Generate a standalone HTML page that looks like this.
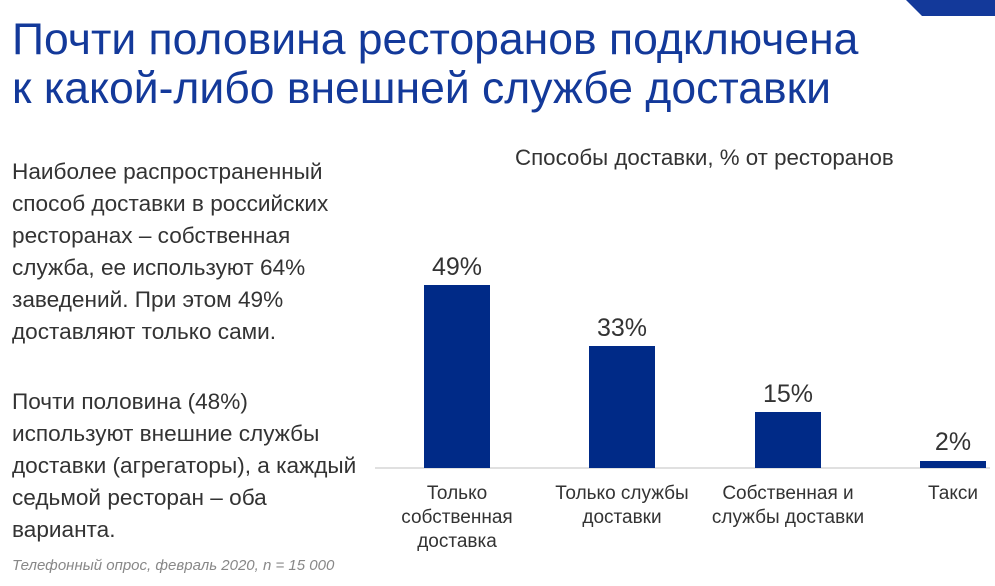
<!DOCTYPE html>
<html><head><meta charset="utf-8"><style>
body{margin:0;width:995px;height:586px;overflow:hidden;background:#fff;position:relative;font-family:"Liberation Sans",sans-serif;color:#333}
.a{position:absolute;white-space:nowrap}
.t{left:12px;color:#13399a;font-size:44.5px;line-height:49px}
.b{left:12px;font-size:22.6px;line-height:32px;color:#333}
.bar{position:absolute;background:#002a87;width:66px}
.v{position:absolute;width:100px;text-align:center;font-size:25px;color:#333}
.c{position:absolute;width:180px;text-align:center;font-size:19px;line-height:24px;color:#333}
</style></head><body>
<svg class="a" style="left:0;top:0" width="995" height="20"><polygon points="906,0 995,0 995,16 922,16" fill="#13399a"/></svg>
<div class="a t" style="top:15px">Почти половина ресторанов подключена<br>к какой-либо внешней службе доставки</div>
<div class="a b" style="top:156px">Наиболее распространенный<br>способ доставки в российских<br>ресторанах – собственная<br>служба, ее используют 64%<br>заведений. При этом 49%<br>доставляют только сами.</div>
<div class="a b" style="top:386px">Почти половина (48%)<br>используют внешние службы<br>доставки (агрегаторы), а каждый<br>седьмой ресторан – оба<br>варианта.</div>
<div class="a" style="left:12px;top:557px;font-size:15px;font-style:italic;color:#888">Телефонный опрос, февраль 2020, n = 15 000</div>
<div class="a" style="left:515px;top:145px;font-size:22.3px;color:#333">Способы доставки, % от ресторанов</div>
<div class="a" style="left:375px;top:467px;width:615px;height:2px;background:#e0e0e0"></div>
<div class="bar" style="left:424px;top:285px;height:183px"></div>
<div class="bar" style="left:589px;top:346px;height:122px"></div>
<div class="bar" style="left:755px;top:412px;height:56px"></div>
<div class="bar" style="left:920px;top:461px;height:7px"></div>
<div class="v" style="left:407px;top:253px">49%</div>
<div class="v" style="left:572px;top:314px">33%</div>
<div class="v" style="left:738px;top:380px">15%</div>
<div class="v" style="left:903px;top:428px">2%</div>
<div class="c" style="left:367px;top:482px">Только<br>собственная<br>доставка</div>
<div class="c" style="left:532px;top:482px">Только службы<br>доставки</div>
<div class="c" style="left:698px;top:482px">Собственная и<br>службы доставки</div>
<div class="c" style="left:863px;top:482px">Такси</div>
</body></html>
